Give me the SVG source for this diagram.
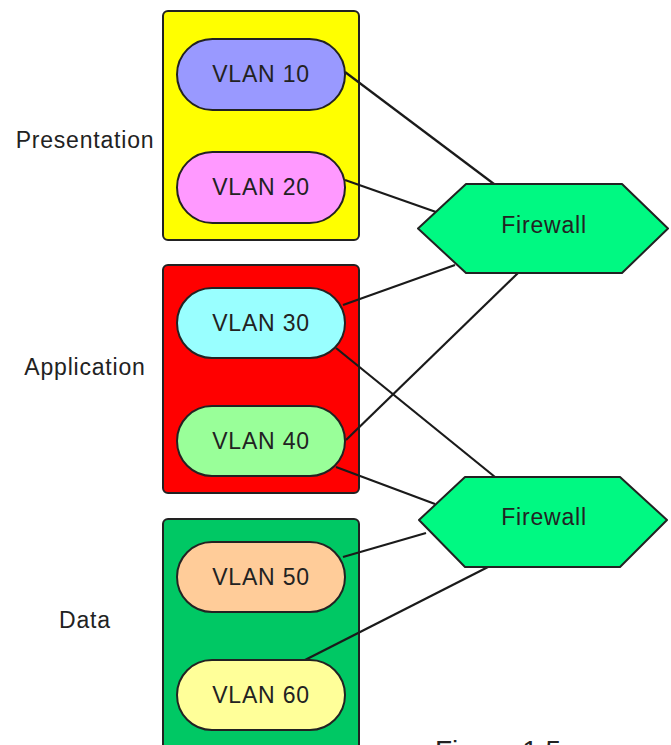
<svg xmlns="http://www.w3.org/2000/svg" width="671" height="745" viewBox="0 0 671 745">
  <style>
    text { font-family: "Liberation Sans", Arial, sans-serif; fill: #222; letter-spacing: 0.8px; }
    .lbl { font-size: 23px; text-anchor: middle; }
    .tier { stroke: #222; stroke-width: 2; }
    .vlan { stroke: #222; stroke-width: 2; }
    .fw { fill: #00f982; stroke: #222; stroke-width: 2; stroke-linejoin: round; }
    .link { stroke: #1a1a1a; stroke-width: 2.2; fill: none; }
    .cap { font-size: 28px; letter-spacing: 0; }
  </style>
  <rect width="671" height="745" fill="#ffffff"/>

  <!-- tier containers -->
  <g id="tier-presentation">
    <rect class="tier" x="163" y="11" width="196" height="229" rx="5" fill="#ffff00"/>
    <text class="lbl" x="85" y="148">Presentation</text>
  </g>
  <g id="tier-application">
    <rect class="tier" x="163" y="265" width="196" height="228" rx="5" fill="#ff0000"/>
    <text class="lbl" x="85" y="375">Application</text>
  </g>
  <g id="tier-data">
    <rect class="tier" x="163" y="519" width="196" height="250" rx="5" fill="#00c864"/>
    <text class="lbl" x="85" y="628">Data</text>
  </g>

  <!-- connectors -->
  <g id="connectors">
    <line class="link" x1="345" y1="72" x2="494" y2="184"/>
    <line class="link" x1="345" y1="180" x2="436" y2="212"/>
    <line class="link" x1="343" y1="305" x2="455" y2="265"/>
    <line class="link" x1="346" y1="440" x2="518" y2="273"/>
    <line class="link" x1="336" y1="348" x2="495" y2="477"/>
    <line class="link" x1="336" y1="467" x2="435" y2="504"/>
    <line class="link" x1="343" y1="557" x2="426" y2="533"/>
    <line class="link" x1="305" y1="660" x2="488" y2="567"/>
  </g>

  <!-- VLAN nodes -->
  <g id="vlan10">
    <rect class="vlan" x="177" y="39" width="168" height="71" rx="35.5" fill="#9999ff"/>
    <text class="lbl" x="261" y="82">VLAN 10</text>
  </g>
  <g id="vlan20">
    <rect class="vlan" x="177" y="152" width="168" height="71" rx="35.5" fill="#ff99ff"/>
    <text class="lbl" x="261" y="195">VLAN 20</text>
  </g>
  <g id="vlan30">
    <rect class="vlan" x="177" y="288" width="168" height="70" rx="35" fill="#99ffff"/>
    <text class="lbl" x="261" y="331">VLAN 30</text>
  </g>
  <g id="vlan40">
    <rect class="vlan" x="177" y="406" width="168" height="70" rx="35" fill="#99ff99"/>
    <text class="lbl" x="261" y="449">VLAN 40</text>
  </g>
  <g id="vlan50">
    <rect class="vlan" x="177" y="542" width="168" height="70" rx="35" fill="#ffcc99"/>
    <text class="lbl" x="261" y="585">VLAN 50</text>
  </g>
  <g id="vlan60">
    <rect class="vlan" x="177" y="660" width="168" height="70" rx="35" fill="#ffff99"/>
    <text class="lbl" x="261" y="703">VLAN 60</text>
  </g>

  <!-- firewalls -->
  <g id="firewall-1">
    <polygon class="fw" points="418,228.5 466,184 622,184 668,228.5 622,273 466,273"/>
    <text class="lbl" x="544" y="233">Firewall</text>
  </g>
  <g id="firewall-2">
    <polygon class="fw" points="419,520 465,477 620,477 667,520 620,567 465,567"/>
    <text class="lbl" x="544" y="525">Firewall</text>
  </g>

  <text class="cap" x="435" y="760">Figure 1.5</text>
</svg>
